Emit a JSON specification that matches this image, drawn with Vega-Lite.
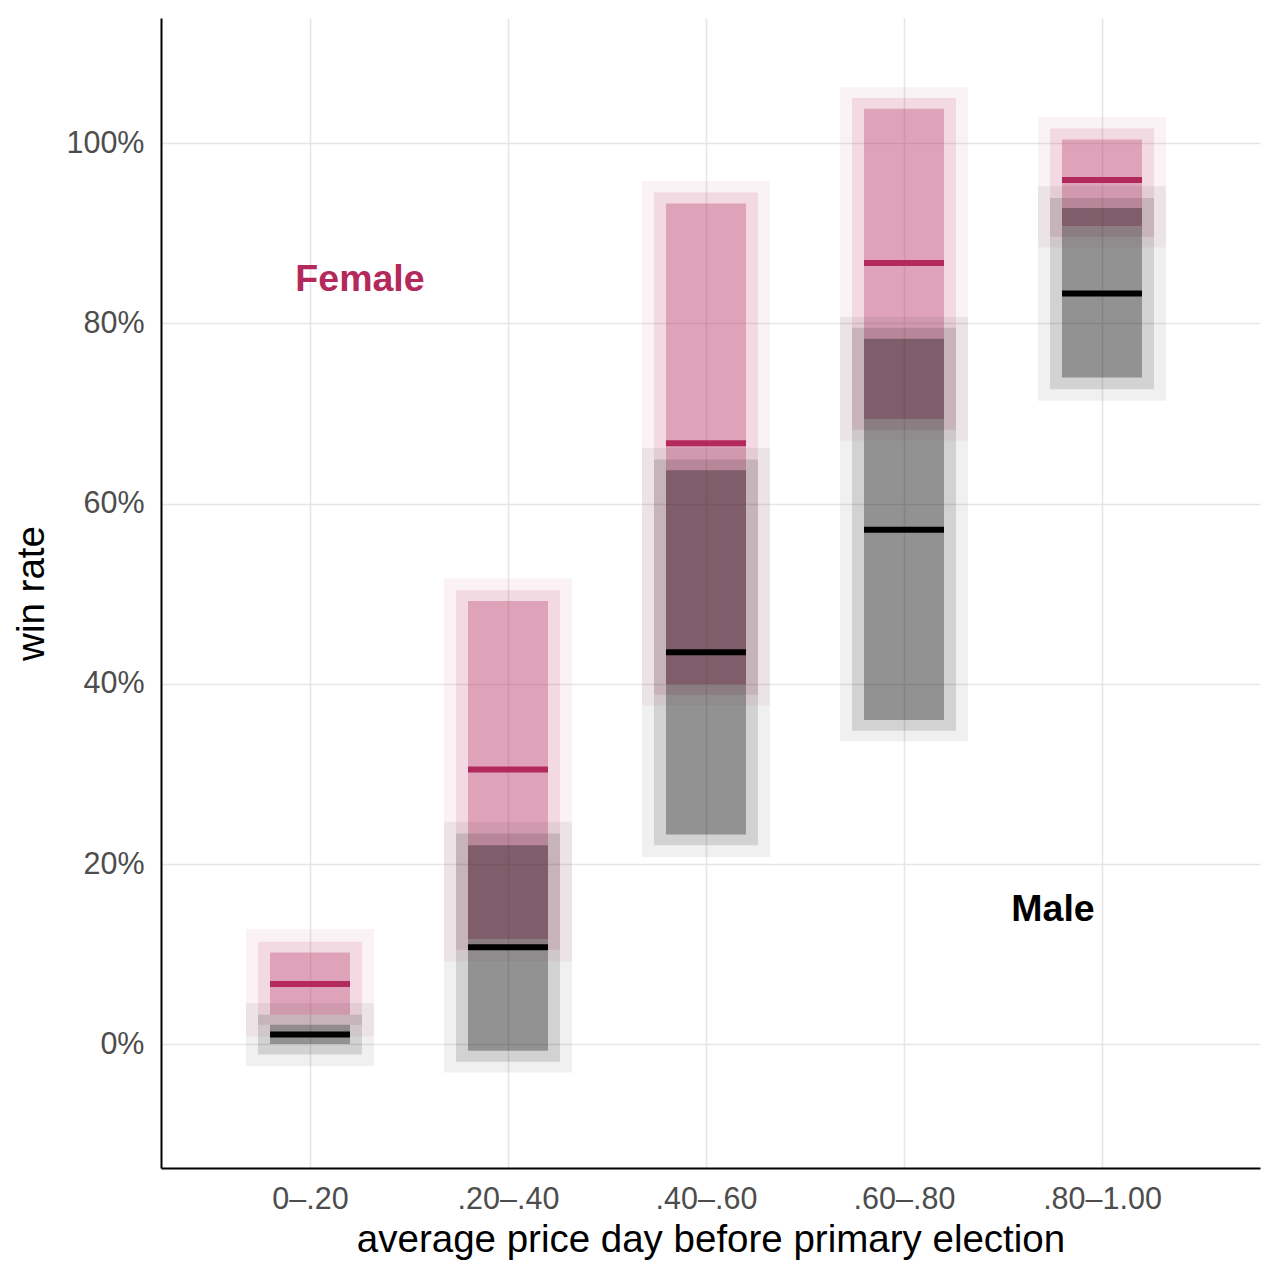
{
  "$schema": "https://vega.github.io/schema/vega-lite/v6.json",
  "autosize": "none",
  "padding": {"left": 161, "top": 18, "right": 20, "bottom": 112},
  "width": 1099,
  "height": 1150,
  "background": "white",
  "config": {
    "view": {"stroke": null},
    "font": "Liberation Sans",
    "axis": {
      "labelFont": "Liberation Sans",
      "titleFont": "Liberation Sans",
      "labelColor": "#4d4d4d",
      "titleColor": "#000000",
      "labelFontSize": 30.5,
      "titleFontSize": 38.5,
      "titleFontWeight": "normal",
      "ticks": false,
      "domainColor": "#000000",
      "domainWidth": 2,
      "gridColor": "#e6e6e6",
      "gridWidth": 1.6
    }
  },
  "datasets": {
    "bands": [
      {"bin": "0–.20", "mid": 0.1, "gender": "Female", "outer_lo": 0.009, "outer_hi": 0.128, "mid_lo": 0.022, "mid_hi": 0.114, "inner_lo": 0.033, "inner_hi": 0.102, "median": 0.067},
      {"bin": ".20–.40", "mid": 0.3, "gender": "Female", "outer_lo": 0.092, "outer_hi": 0.517, "mid_lo": 0.105, "mid_hi": 0.504, "inner_lo": 0.117, "inner_hi": 0.492, "median": 0.305},
      {"bin": ".40–.60", "mid": 0.5, "gender": "Female", "outer_lo": 0.376, "outer_hi": 0.958, "mid_lo": 0.388, "mid_hi": 0.945, "inner_lo": 0.400, "inner_hi": 0.933, "median": 0.667},
      {"bin": ".60–.80", "mid": 0.7, "gender": "Female", "outer_lo": 0.670, "outer_hi": 1.062, "mid_lo": 0.682, "mid_hi": 1.050, "inner_lo": 0.694, "inner_hi": 1.038, "median": 0.867},
      {"bin": ".80–1.00", "mid": 0.9, "gender": "Female", "outer_lo": 0.884, "outer_hi": 1.029, "mid_lo": 0.896, "mid_hi": 1.016, "inner_lo": 0.908, "inner_hi": 1.004, "median": 0.959},
      {"bin": "0–.20", "mid": 0.1, "gender": "Male", "outer_lo": -0.024, "outer_hi": 0.046, "mid_lo": -0.011, "mid_hi": 0.033, "inner_lo": 0.0005, "inner_hi": 0.022, "median": 0.011},
      {"bin": ".20–.40", "mid": 0.3, "gender": "Male", "outer_lo": -0.031, "outer_hi": 0.247, "mid_lo": -0.019, "mid_hi": 0.234, "inner_lo": -0.007, "inner_hi": 0.221, "median": 0.108},
      {"bin": ".40–.60", "mid": 0.5, "gender": "Male", "outer_lo": 0.208, "outer_hi": 0.662, "mid_lo": 0.221, "mid_hi": 0.649, "inner_lo": 0.233, "inner_hi": 0.637, "median": 0.435},
      {"bin": ".60–.80", "mid": 0.7, "gender": "Male", "outer_lo": 0.336, "outer_hi": 0.807, "mid_lo": 0.348, "mid_hi": 0.795, "inner_lo": 0.360, "inner_hi": 0.783, "median": 0.571},
      {"bin": ".80–1.00", "mid": 0.9, "gender": "Male", "outer_lo": 0.714, "outer_hi": 0.952, "mid_lo": 0.727, "mid_hi": 0.939, "inner_lo": 0.740, "inner_hi": 0.928, "median": 0.833}
    ],
    "labels": [
      {"label": "Female", "gender": "Female", "lx": 0.1505, "ly": 0.848},
      {"label": "Male", "gender": "Male", "lx": 0.8505, "ly": 0.149}
    ]
  },
  "data": {"name": "bands"},
  "encoding": {
    "x": {
      "field": "mid",
      "type": "quantitative",
      "scale": {"domain": [-0.0505, 1.0596], "nice": false, "zero": false, "padding": 0},
      "axis": {
        "values": [0.1, 0.3, 0.5, 0.7, 0.9],
        "labelExpr": "datum.value < 0.2 ? '0–.20' : datum.value < 0.4 ? '.20–.40' : datum.value < 0.6 ? '.40–.60' : datum.value < 0.8 ? '.60–.80' : '.80–1.00'",
        "title": "average price day before primary election",
        "labelPadding": 16,
        "titlePadding": 7
      }
    }
  },
  "layer": [
    {
      "transform": [{"filter": "datum.gender === 'Female'"}],
      "mark": {"type": "bar", "size": 128, "color": "#B4295B", "opacity": 0.06},
      "encoding": {
        "y": {
          "field": "outer_lo",
          "type": "quantitative",
          "scale": {"domain": [-0.137, 1.1387], "nice": false, "zero": false, "padding": 0},
          "axis": {"values": [0, 0.2, 0.4, 0.6, 0.8, 1.0], "format": ".0%", "title": "win rate", "labelPadding": 17, "titlePadding": 14}
        },
        "y2": {"field": "outer_hi"}
      }
    },
    {
      "transform": [{"filter": "datum.gender === 'Female'"}],
      "mark": {"type": "bar", "size": 104, "color": "#B4295B", "opacity": 0.12},
      "encoding": {"y": {"field": "mid_lo", "type": "quantitative"}, "y2": {"field": "mid_hi"}}
    },
    {
      "transform": [{"filter": "datum.gender === 'Female'"}],
      "mark": {"type": "bar", "size": 80, "color": "#B4295B", "opacity": 0.3},
      "encoding": {"y": {"field": "inner_lo", "type": "quantitative"}, "y2": {"field": "inner_hi"}}
    },
    {
      "transform": [{"filter": "datum.gender === 'Male'"}],
      "mark": {"type": "bar", "size": 128, "color": "#000000", "opacity": 0.06},
      "encoding": {"y": {"field": "outer_lo", "type": "quantitative"}, "y2": {"field": "outer_hi"}}
    },
    {
      "transform": [{"filter": "datum.gender === 'Male'"}],
      "mark": {"type": "bar", "size": 104, "color": "#000000", "opacity": 0.12},
      "encoding": {"y": {"field": "mid_lo", "type": "quantitative"}, "y2": {"field": "mid_hi"}}
    },
    {
      "transform": [{"filter": "datum.gender === 'Male'"}],
      "mark": {"type": "bar", "size": 80, "color": "#000000", "opacity": 0.3},
      "encoding": {"y": {"field": "inner_lo", "type": "quantitative"}, "y2": {"field": "inner_hi"}}
    },
    {
      "transform": [{"filter": "datum.gender === 'Female'"}],
      "mark": {"type": "tick", "orient": "horizontal", "size": 80, "thickness": 6, "color": "#B4295B", "opacity": 1},
      "encoding": {"y": {"field": "median", "type": "quantitative"}}
    },
    {
      "transform": [{"filter": "datum.gender === 'Male'"}],
      "mark": {"type": "tick", "orient": "horizontal", "size": 80, "thickness": 6, "color": "#000000", "opacity": 1},
      "encoding": {"y": {"field": "median", "type": "quantitative"}}
    },
    {
      "data": {"name": "labels"},
      "mark": {"type": "text", "font": "Liberation Sans", "fontWeight": "bold", "fontSize": 37.5, "align": "center", "baseline": "middle"},
      "encoding": {
        "x": {"field": "lx", "type": "quantitative"},
        "y": {"field": "ly", "type": "quantitative"},
        "text": {"field": "label"},
        "color": {"field": "gender", "type": "nominal", "scale": {"domain": ["Female", "Male"], "range": ["#B4295B", "#000000"]}, "legend": null}
      }
    }
  ]
}
